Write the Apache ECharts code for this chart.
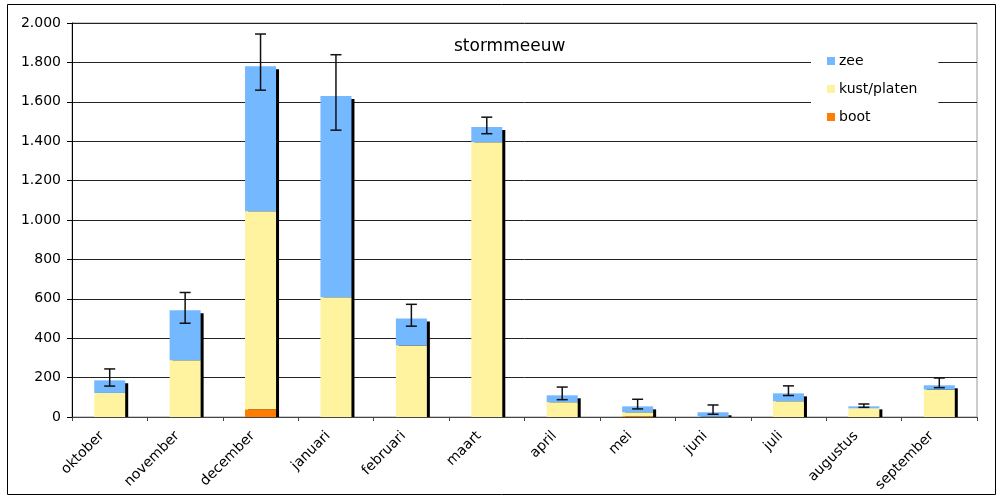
<!DOCTYPE html>
<html>
<head>
<meta charset="utf-8">
<script src="https://cdn.jsdelivr.net/npm/echarts@6/dist/echarts.min.js"></script>
<style>
html,body{margin:0;padding:0;background:#fff;}
#chart{width:1001px;height:498px;}
</style>
</head>
<body>
<div id="chart"></div>
<script>
const months = ['oktober','november','december','januari','februari','maart','april','mei','juni','juli','augustus','september'];
const boot = [0, 0, 39, 0, 0, 0, 0, 4, 0, 0, 0, 0];
const kust = [122, 288, 1006, 608, 363, 1395, 75, 20, 2, 80, 44, 139];
const zee  = [64, 254, 736, 1021, 137, 77, 35, 30, 22, 40, 10, 22];
const errLow  = [157, 476, 1659, 1456, 461, 1438, 88, 41, 14, 109, 49, 149];
const errHigh = [244, 632, 1944, 1839, 572, 1522, 152, 90, 61, 158, 66, 198];
const yTicks = [0, 200, 400, 600, 800, 1000, 1200, 1400, 1600, 1800, 2000];

const totals = months.map((m, i) => boot[i] + kust[i] + zee[i]);
const BAR_W = 31;
const FONT = 'DejaVu Sans';

function fmt(v) {
  if (v >= 1000) return Math.floor(v / 1000) + '.' + String(v % 1000).padStart(3, '0');
  return String(v);
}

const chart = echarts.init(document.getElementById('chart'), null, {renderer: 'canvas'});
chart.setOption({
  animation: false,
  backgroundColor: '#fff',
  title: {
    text: 'stormmeeuw',
    left: 449, top: 33,
    textStyle: {fontFamily: FONT, fontSize: 17, fontWeight: 'normal', color: '#000'}
  },
  legend: {
    data: ['zee', 'kust/platen', 'boot'],
    orient: 'vertical',
    left: 811, top: 46,
    padding: [8, 21, 8, 16],
    backgroundColor: '#fff',
    itemWidth: 8, itemHeight: 8, itemGap: 14,
    icon: 'rect',
    textStyle: {fontFamily: FONT, fontSize: 14, lineHeight: 14, color: '#000', padding: [0, 0, 0, -1]}
  },
  grid: {left: 72, right: 24, top: 23, bottom: 81, show: true, borderColor: '#999', borderWidth: 1, backgroundColor: 'transparent'},
  xAxis: {
    type: 'category',
    data: months,
    boundaryGap: true,
    axisLine: {lineStyle: {color: '#444', width: 1}},
    axisTick: {show: true, length: 4, lineStyle: {color: '#444'}},
    axisLabel: {rotate: 45, margin: 9, padding: [0, 11, 0, 0], fontFamily: FONT, fontSize: 14, color: '#000', interval: 0}
  },
  yAxis: {
    type: 'value',
    min: yTicks[0], max: yTicks[yTicks.length - 1], interval: 200,
    axisLine: {show: true, lineStyle: {color: '#000', width: 1}},
    axisTick: {show: true, length: 5, lineStyle: {color: '#000'}},
    axisLabel: {margin: 11, fontFamily: FONT, fontSize: 14, color: '#000', formatter: fmt},
    splitLine: {show: true, lineStyle: {color: '#222', width: 1}}
  },
  graphic: [{
    type: 'rect', silent: true, z: 100,
    shape: {x: 7.5, y: 4.5, width: 988, height: 490},
    style: {fill: 'none', stroke: '#000', lineWidth: 1}
  }],
  series: [
    {
      name: 'shadow', type: 'custom', z: 1,
      data: totals.map((t, i) => [i, t]),
      renderItem: function (params, api) {
        const idx = api.value(0), tot = api.value(1);
        const top = api.coord([idx, tot]);
        const base = api.coord([idx, 0]);
        return {
          type: 'rect',
          shape: {x: top[0] - BAR_W / 2 + 3, y: top[1] + 3, width: BAR_W, height: Math.max(0, base[1] - top[1] - 3)},
          style: {fill: '#000'}
        };
      },
      silent: true
    },
    {name: 'boot', type: 'bar', stack: 'a', data: boot, barWidth: BAR_W, z: 2, itemStyle: {color: '#ff7c00'}},
    {name: 'kust/platen', type: 'bar', stack: 'a', data: kust, barWidth: BAR_W, z: 2, itemStyle: {color: '#fff3a0'}},
    {name: 'zee', type: 'bar', stack: 'a', data: zee, barWidth: BAR_W, z: 2, itemStyle: {color: '#74b8ff'}},
    {
      name: 'err', type: 'custom', z: 5,
      data: errLow.map((lo, i) => [i, lo, errHigh[i]]),
      renderItem: function (params, api) {
        const idx = api.value(0);
        const lo = api.coord([idx, api.value(1)]);
        const hi = api.coord([idx, api.value(2)]);
        const x = lo[0], cw = 5.5;
        const st = {stroke: '#111', lineWidth: 1.5, fill: 'none'};
        return {
          type: 'group',
          children: [
            {type: 'line', shape: {x1: x, y1: lo[1], x2: x, y2: hi[1]}, style: st},
            {type: 'line', shape: {x1: x - cw, y1: lo[1], x2: x + cw, y2: lo[1]}, style: st},
            {type: 'line', shape: {x1: x - cw, y1: hi[1], x2: x + cw, y2: hi[1]}, style: st}
          ]
        };
      },
      silent: true
    }
  ]
});
</script>
</body>
</html>
